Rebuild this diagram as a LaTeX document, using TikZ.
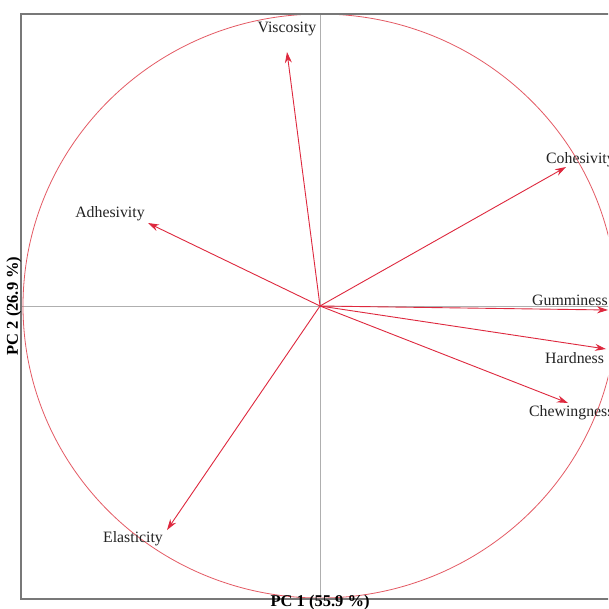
\documentclass[tikz,border=0pt]{standalone}
\usepackage{fontspec}
\setmainfont{Liberation Serif}
\usetikzlibrary{arrows.meta}
\definecolor{vecred}{RGB}{222,40,62}
\definecolor{circred}{RGB}{228,90,100}
\definecolor{framegray}{RGB}{120,120,120}
\definecolor{axisgray}{RGB}{175,175,175}
\definecolor{txt}{RGB}{35,35,35}
\tikzset{
  vec/.style={draw=vecred, line width=0.9pt, -{Stealth[length=11pt,width=7pt]}},
  varlabel/.style={text=txt, font=\fontsize{15.8}{18}\selectfont, inner sep=0pt},
  axlabel/.style={text=black, font=\bfseries\fontsize{16.5}{19}\selectfont, inner sep=0pt},
  frameline/.style={draw=framegray, line width=1.6pt},
  axisline/.style={draw=axisgray, line width=0.8pt},
  corr/.style={draw=circred, line width=0.8pt}
}
\begin{document}
\begin{tikzpicture}[x=1pt,y=-1pt]
\clip (0,0) rectangle (608,609);
\fill[white] (0,0) rectangle (608,609);
% axes
\coordinate (c) at (320,306);
\coordinate (vt) at (320,14);
\coordinate (vb) at (320,599);
\coordinate (hl) at (21,306);
\coordinate (hr) at (625,306);
\draw[axisline] (vt) -- (vb);
\draw[axisline] (hl) -- (hr);
% correlation circle
\draw[corr] (c) ellipse[x radius=297, y radius=292];
% frame
\draw[frameline] (625,14) -- (21,14) -- (21,599) -- (625,599);
% vector tips
\coordinate (tVis) at (287,52);
\coordinate (tCoh) at (566,167);
\coordinate (tGum) at (608,310);
\coordinate (tHar) at (606,349);
\coordinate (tChe) at (568,403);
\coordinate (tAdh) at (148,223);
\coordinate (tEla) at (167,530);
\foreach \t in {tVis,tCoh,tGum,tHar,tChe,tAdh,tEla} \draw[vec] (c) -- (\t);
% labels
\node[varlabel] (lVis) at (287,29) {Viscosity};
\node[varlabel, anchor=west] (lCoh) at (546,160) {Cohesivity};
\node[varlabel, anchor=west] (lGum) at (532,300) {Gumminess};
\node[varlabel, anchor=west] (lHar) at (545,358) {Hardness};
\node[varlabel, anchor=west] (lChe) at (529,413) {Chewingness};
\node[varlabel] (lAdh) at (110,214) {Adhesivity};
\node[varlabel] (lEla) at (133,539) {Elasticity};
% axis titles
\node[axlabel] (xt) at (320,603) {PC 1 (55.9 \%)};
\node[axlabel, rotate=90] (yt) at (14,306) {PC 2 (26.9 \%)};
\end{tikzpicture}
\end{document}
